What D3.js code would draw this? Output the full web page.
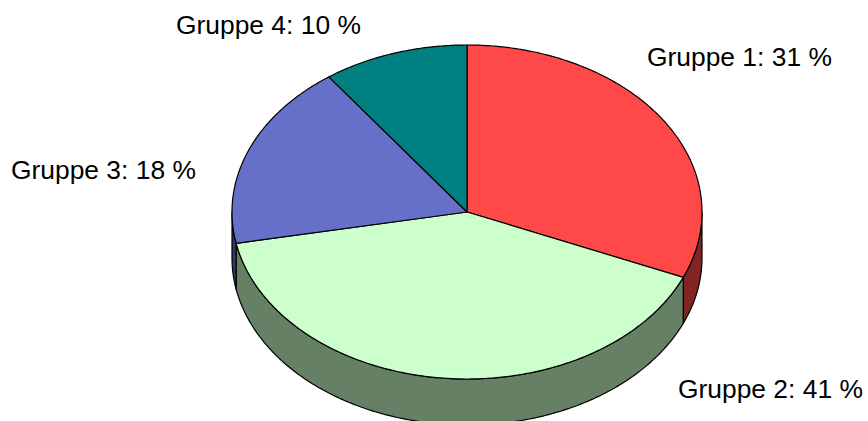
<!DOCTYPE html>
<html>
<head>
<meta charset="utf-8">
<script src="https://cdn.jsdelivr.net/npm/d3@7"></script>
<style>
	html, body { margin: 0; padding: 0; background: #fff; }
	svg { display: block; }
	text { font-family: "Liberation Sans", Arial, sans-serif; font-size: 26.4px; fill: #000; }
</style>
</head>
<body>
<div id="chart"></div>
<script>
var groups = ["Gruppe 1", "Gruppe 2", "Gruppe 3", "Gruppe 4"];
// slice sizes as measured, the labels show them rounded
var shares = [31.4, 40.6, 18, 10];

var topColors = ["#ff4848", "#ccffcc", "#6670c8", "#008080"];
var sideColors = ["#802424", "#668066", "#333864", "#004040"];
// left edge and baseline of each label
var labelX = [647, 678, 11, 176];
var labelY = [66, 398, 179, 34];

var width = 868, height = 421;
var cx = 467, cy = 212, rx = 235, ry = 167, depth = 46;

var svg = d3.select("#chart").append("svg")
	.attr("width", width)
	.attr("height", height);

var pie = d3.pie().sort(null).value(function(d) { return d; });
var slices = pie(shares);

// unit circle to screen, the pie is a flattened disc
var xScale = d3.scaleLinear().domain([-1, 1]).range([cx - rx, cx + rx]);
var yScale = d3.scaleLinear().domain([-1, 1]).range([cy - ry, cy + ry]);

function rimX(a) { return xScale(Math.sin(a)); }
function rimY(a) { return yScale(-Math.cos(a)); }

// wall of a slice, only the front half of the disc can be seen
function wallPath(s) {
	var from = Math.max(s.startAngle, Math.PI / 2);
	var to = Math.min(s.endAngle, Math.PI * 3 / 2);
	if (from >= to) return null;
	var angles = d3.range(from, to, 0.01).concat([to]);
	var pts = angles.map(function(a) { return [rimX(a), rimY(a)]; });
	var low = angles.slice().reverse().map(function(a) { return [rimX(a), rimY(a) + depth]; });
	return d3.line()(pts.concat(low)) + "Z";
}

// top face of a slice
function topPath(s) {
	var angles = d3.range(s.startAngle, s.endAngle, 0.01).concat([s.endAngle]);
	var pts = angles.map(function(a) { return [rimX(a), rimY(a)]; });
	return d3.line()([[cx, cy]].concat(pts)) + "Z";
}

svg.append("g").selectAll("path")
	.data(slices.filter(function(s) { return wallPath(s) !== null; }))
	.enter().append("path")
	.attr("d", wallPath)
	.attr("fill", function(s) { return sideColors[s.index]; })
	.attr("stroke", "#000")
	.attr("stroke-width", 1.2)
	.attr("stroke-linejoin", "round");

svg.append("g").selectAll("path")
	.data(slices)
	.enter().append("path")
	.attr("d", topPath)
	.attr("fill", function(s) { return topColors[s.index]; })
	.attr("stroke", "#000")
	.attr("stroke-width", 1.2)
	.attr("stroke-linejoin", "round");

svg.append("g").selectAll("text")
	.data(groups)
	.enter().append("text")
	.attr("x", function(d, i) { return labelX[i]; })
	.attr("y", function(d, i) { return labelY[i]; })
	.text(function(d, i) { return d + ": " + Math.round(shares[i]) + " %"; });
</script>
</body>
</html>
